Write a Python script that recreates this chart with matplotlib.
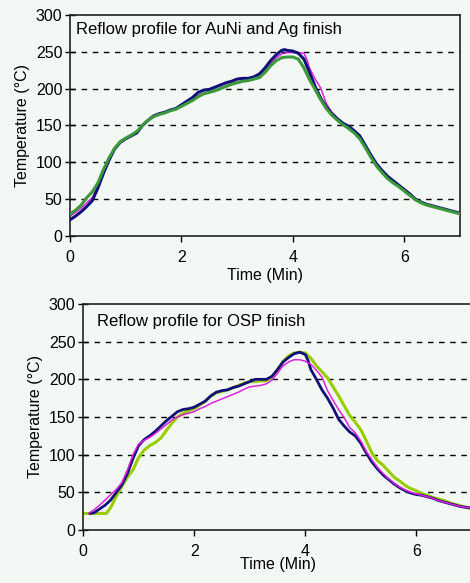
import matplotlib
matplotlib.use("Agg")
import matplotlib.pyplot as plt

plt.rcParams["font.family"] = ["Liberation Sans", "DejaVu Sans"]

# top panel: AuNi and Ag finish ==============================================

top_navy_t = [0, 0.1, 0.2, 0.3, 0.4, 0.5, 0.6, 0.7, 0.8, 0.9, 1.0, 1.1, 1.2, 1.3, 1.4, 1.5,
              1.6, 1.7, 1.8, 1.9, 2.0, 2.1, 2.2, 2.3, 2.4, 2.5, 2.6, 2.7, 2.8, 2.9, 3.0, 3.1,
              3.2, 3.3, 3.4, 3.5, 3.6, 3.7, 3.8, 3.85, 3.9, 4.0, 4.1, 4.2, 4.3, 4.4, 4.5, 4.6,
              4.7, 4.8, 4.9, 5.0, 5.1, 5.2, 5.3, 5.4, 5.5, 5.6, 5.7, 5.8, 5.9, 6.0, 6.1, 6.2,
              6.3, 6.4, 6.5, 6.6, 6.7, 6.8, 6.9, 7.0]
top_navy_T = [22, 27, 33, 40, 48, 65, 85, 103, 118, 127, 132, 136, 140, 150, 157, 163,
              166, 168, 171, 173, 178, 183, 188, 195, 198, 199, 202, 205, 208, 210, 213, 214,
              214, 216, 220, 228, 238, 246, 252, 253, 252, 251, 248, 240, 222, 203, 187, 175,
              166, 159, 153, 149, 143, 136, 123, 110, 98, 89, 81, 75, 69, 63, 57, 50,
              46, 43, 41, 39, 37, 35, 33, 31]

top_mag_t = [0, 0.1, 0.2, 0.3, 0.4, 0.5, 0.6, 0.7, 0.8, 0.9, 1.0, 1.1, 1.2, 1.3, 1.4, 1.5,
             1.6, 1.7, 1.8, 1.9, 2.0, 2.1, 2.2, 2.3, 2.4, 2.5, 2.6, 2.7, 2.8, 2.9, 3.0, 3.1,
             3.2, 3.3, 3.4, 3.5, 3.6, 3.7, 3.8, 3.9, 4.0, 4.1, 4.2, 4.25, 4.3, 4.4, 4.5, 4.6,
             4.7, 4.8, 4.9, 5.0, 5.1, 5.2, 5.3, 5.4, 5.5, 5.6, 5.7, 5.8, 5.9, 6.0, 6.1, 6.2,
             6.3, 6.4, 6.5, 6.6, 6.7, 6.8, 6.9, 7.0]
top_mag_T = [27, 32, 38, 45, 52, 68, 88, 104, 118, 127, 132, 136, 141, 150, 157, 162,
             165, 168, 171, 173, 177, 182, 186, 191, 194, 196, 198, 201, 204, 207, 209, 211,
             212, 213, 217, 225, 234, 242, 247, 249, 249, 249, 248, 240, 228, 213, 201, 180,
             168, 160, 152, 147, 141, 133, 120, 107, 96, 87, 79, 73, 68, 62, 56, 49,
             45, 42, 40, 38, 36, 34, 32, 30]

top_green_t = [0, 0.1, 0.2, 0.3, 0.4, 0.5, 0.6, 0.7, 0.8, 0.9, 1.0, 1.1, 1.2, 1.3, 1.4, 1.5,
               1.6, 1.7, 1.8, 1.9, 2.0, 2.1, 2.2, 2.3, 2.4, 2.5, 2.6, 2.7, 2.8, 2.9, 3.0, 3.1,
               3.2, 3.3, 3.4, 3.5, 3.6, 3.7, 3.8, 3.9, 4.0, 4.1, 4.2, 4.3, 4.4, 4.5, 4.6,
               4.7, 4.8, 4.9, 5.0, 5.1, 5.2, 5.3, 5.4, 5.5, 5.6, 5.7, 5.8, 5.9, 6.0, 6.1, 6.2,
               6.3, 6.4, 6.5, 6.6, 6.7, 6.8, 6.9, 7.0]
top_green_T = [30, 35, 42, 52, 60, 72, 90, 106, 119, 128, 133, 137, 142, 150, 157, 162,
               165, 167, 170, 172, 176, 180, 184, 189, 193, 195, 197, 200, 203, 206, 208, 210,
               211, 213, 215, 222, 231, 238, 242, 243, 243, 240, 228, 212, 199, 185, 173,
               164, 157, 151, 146, 140, 132, 120, 107, 95, 86, 78, 72, 67, 61, 55, 49,
               45, 42, 40, 38, 36, 34, 32, 30]

# bottom panel: OSP finish ====================================================

bot_navy_t = [0.13, 0.2, 0.3, 0.4, 0.5, 0.6, 0.7, 0.8, 0.9, 1.0, 1.1, 1.2, 1.3, 1.4, 1.5,
              1.6, 1.7, 1.8, 1.9, 2.0, 2.1, 2.2, 2.3, 2.4, 2.5, 2.6, 2.7, 2.8, 2.9, 3.0, 3.1,
              3.2, 3.3, 3.4, 3.5, 3.6, 3.7, 3.8, 3.9, 4.0, 4.05, 4.1, 4.2, 4.3, 4.4, 4.5, 4.6,
              4.7, 4.8, 4.9, 5.0, 5.1, 5.2, 5.3, 5.4, 5.5, 5.6, 5.7, 5.8, 5.9, 6.0, 6.1, 6.2,
              6.3, 6.4, 6.5, 6.6, 6.7, 6.8, 6.9, 7.0]
bot_navy_T = [22, 23, 28, 33, 40, 50, 60, 75, 95, 112, 120, 125, 131, 138, 145,
              151, 157, 160, 161, 163, 167, 171, 178, 183, 185, 186, 189, 191, 194, 197, 200,
              200, 200, 204, 213, 223, 229, 234, 236, 233, 225, 213, 200, 186, 175, 162, 147,
              138, 130, 125, 115, 102, 90, 81, 73, 67, 61, 56, 52, 49, 47, 46, 44,
              42, 39, 37, 35, 33, 31, 30, 29]

bot_mag_t = [0.1, 0.2, 0.3, 0.4, 0.5, 0.6, 0.7, 0.8, 0.9, 1.0, 1.1, 1.2, 1.3, 1.4, 1.5,
             1.6, 1.7, 1.8, 1.9, 2.0, 2.1, 2.2, 2.3, 2.4, 2.5, 2.6, 2.7, 2.8, 2.9, 3.0, 3.1,
             3.2, 3.3, 3.4, 3.5, 3.6, 3.7, 3.8, 3.9, 4.0, 4.1, 4.2, 4.3, 4.4, 4.5, 4.6,
             4.7, 4.8, 4.9, 5.0, 5.1, 5.2, 5.3, 5.4, 5.5, 5.6, 5.7, 5.8, 5.9, 6.0, 6.1, 6.2,
             6.3, 6.4, 6.5, 6.6, 6.7, 6.8, 6.9, 7.0]
bot_mag_T = [22, 27, 33, 40, 47, 54, 63, 80, 100, 114, 119, 123, 128, 134, 140,
             146, 150, 153, 155, 157, 161, 164, 168, 171, 174, 177, 180, 183, 187, 190, 191,
             192, 194, 199, 208, 218, 223, 226, 226, 224, 220, 212, 203, 185, 172, 160,
             149, 136, 129, 118, 104, 93, 83, 75, 68, 62, 57, 53, 50, 48, 46, 44,
             42, 39, 37, 35, 33, 31, 30, 29]

bot_green_t = [0, 0.1, 0.2, 0.3, 0.42, 0.5, 0.6, 0.7, 0.8, 0.9, 1.0, 1.1, 1.2, 1.3, 1.4, 1.5,
               1.6, 1.7, 1.8, 1.9, 2.0, 2.1, 2.2, 2.3, 2.4, 2.5, 2.6, 2.7, 2.8, 2.9, 3.0, 3.1,
               3.2, 3.3, 3.4, 3.5, 3.6, 3.7, 3.8, 3.9, 4.0, 4.1, 4.2, 4.3, 4.4, 4.5, 4.6,
               4.7, 4.8, 4.9, 5.0, 5.1, 5.2, 5.3, 5.4, 5.5, 5.6, 5.7, 5.8, 5.9, 6.0, 6.1, 6.2,
               6.3, 6.4, 6.5, 6.6, 6.7, 6.8, 6.9, 7.0]
bot_green_T = [22, 22, 22, 22, 22, 30, 45, 58, 70, 80, 96, 106, 112, 116, 122, 132,
               142, 150, 155, 158, 161, 166, 171, 178, 182, 184, 186, 189, 192, 195, 197, 197,
               198, 198, 203, 212, 224, 231, 235, 236, 235, 228, 218, 210, 202, 190, 178,
               165, 152, 143, 133, 118, 102, 92, 86, 78, 70, 65, 59, 55, 52, 48, 46,
               43, 41, 39, 36, 34, 32, 30, 28]

yticks = [0, 50, 100, 150, 200, 250, 300]
xticks = [0, 2, 4, 6]

bg = "#f4f8f5"
fig = plt.figure(figsize=(4.7, 5.83), dpi=100, facecolor=bg)

W, H = 470, 583
ax1 = fig.add_axes([70 / W, (H - 236) / H, 390 / W, 221 / H])
ax2 = fig.add_axes([83 / W, (H - 530) / H, 389 / W, 226 / H])


def style(ax, title, tx, ty):
    ax.set_facecolor(bg)
    ax.set_xlim(0, 7)
    ax.set_ylim(0, 300)
    ax.set_xticks(xticks)
    ax.set_yticks(yticks)
    for y in yticks[1:-1]:
        ax.axhline(y, color="black", lw=1, ls=(0, (4, 4)), zorder=1)
    for s in ax.spines.values():
        s.set_linewidth(1.2)
        s.set_color("#222222")
    ax.tick_params(axis="y", direction="inout", length=7, width=1, labelsize=11.5, pad=2)
    ax.tick_params(axis="x", direction="out", length=4, width=1, labelsize=11.5, pad=6)
    ax.set_xlabel("Time (Min)", fontsize=11.5, labelpad=2)
    ax.set_ylabel("Temperature (°C)", fontsize=11.5, labelpad=4)
    ax.text(tx, ty, title, transform=ax.transAxes, fontsize=12, va="top", ha="left")


style(ax1, "Reflow profile for AuNi and Ag finish", 0.015, 0.97)
ax1.plot(top_navy_t, top_navy_T, color="#10107a", lw=2.2, zorder=3)
ax1.plot(top_green_t, top_green_T, color="#3a9a3a", lw=2.2, zorder=4)
ax1.plot(top_mag_t, top_mag_T, color="#e020e0", lw=1.1, zorder=2)

style(ax2, "Reflow profile for OSP finish", 0.035, 0.955)
ax2.spines["right"].set_visible(False)
ax2.xaxis.labelpad = -1
ax2.plot(bot_navy_t, bot_navy_T, color="#10107a", lw=2.0, zorder=3)
ax2.plot(bot_mag_t, bot_mag_T, color="#e020e0", lw=1.1, zorder=4)
ax2.plot(bot_green_t, bot_green_T, color="#99cc00", lw=2.2, zorder=2)

fig.savefig("out.png", dpi=100, facecolor=bg)
